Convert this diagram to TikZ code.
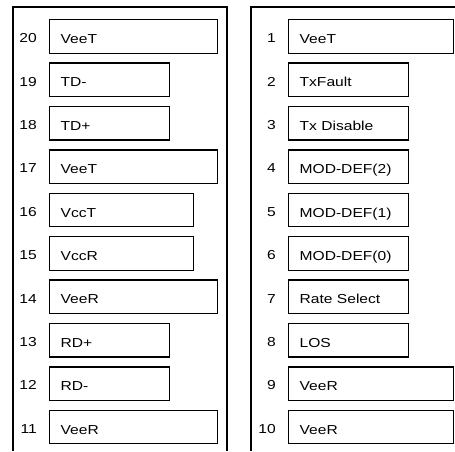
\documentclass[tikz,border=0pt]{standalone}
\usepackage{fontspec}
\setmainfont{Liberation Sans}[FakeStretch=1.2]
\begin{document}
\begin{tikzpicture}[x=1pt, y=-1pt,
  frame/.style={draw=black, line width=1.5pt},
  pinbox/.style={draw=black, line width=1.3pt, anchor=north west,
    inner xsep=11pt, inner ysep=2pt, minimum height=33.5pt,
    text height=14pt, text depth=0pt, align=left, text width=#1},
  pinnum/.style={anchor=base east, inner sep=0pt},
  every node/.style={font=\fontsize{13}{15}\selectfont}]
\useasboundingbox (0,0) rectangle (455,451);

% connector housings, open at the bottom
\draw[frame] (13,451) -- (13,7) -- (227,7) -- (227,451);
\draw[frame] (251,451) -- (251,7) -- (455,7);

% left row: pins 20 down to 11
\foreach \k/\n/\lab/\w in {0/20/VeeT/146, 1/19/TD-/98, 2/18/TD+/98,
    3/17/VeeT/146, 4/16/VccT/122, 5/15/VccR/122, 6/14/VeeR/146,
    7/13/RD+/98, 8/12/RD-/98, 9/11/VeeR/146} {
  \node[pinbox=\w pt] (pin\n) at (49,{19+43.4*\k}) {\lab};
  \node[pinnum] (num\n) at (37,{42.7+43.4*\k}) {\n};
}

% right row: pins 1 down to 10
\foreach \k/\n/\lab/\w in {0/1/VeeT/143, 1/2/TxFault/98, 2/3/Tx Disable/98,
    3/4/MOD-DEF(2)/98, 4/5/MOD-DEF(1)/98, 5/6/MOD-DEF(0)/98,
    6/7/Rate Select/98, 7/8/LOS/98, 8/9/VeeR/143, 9/10/VeeR/143} {
  \node[pinbox=\w pt] (pin\n) at (288,{19+43.4*\k}) {\lab};
  \node[pinnum] (num\n) at (276,{42.7+43.4*\k}) {\n};
}
\end{tikzpicture}
\end{document}
